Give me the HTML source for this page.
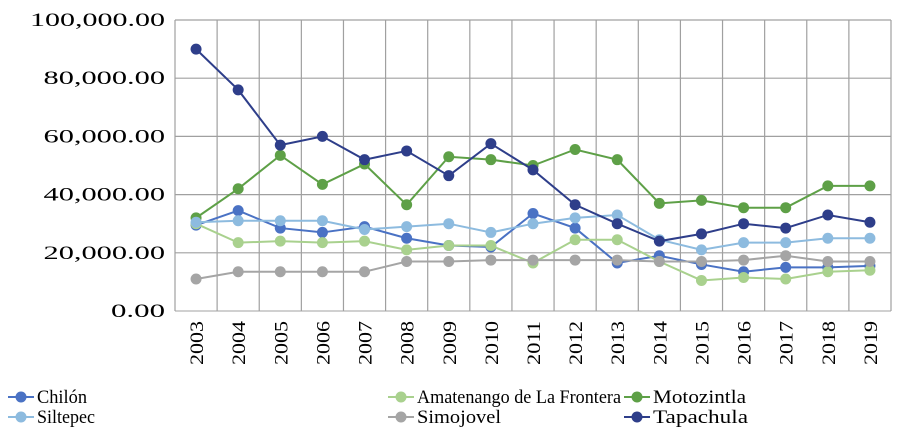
<!DOCTYPE html>
<html><head><meta charset="utf-8"><style>
body{margin:0;background:#fff}
svg text{font-family:"Liberation Serif",serif;fill:#000}
</style></head><body>
<svg width="917" height="432">
<g id="grid"></g><g id="axes"></g><g id="series"></g><g id="legend"></g>
</svg>
<script>
const years=["2003","2004","2005","2006","2007","2008","2009","2010","2011","2012","2013","2014","2015","2016","2017","2018","2019"];
const yTicks=[0,20000,40000,60000,80000,100000];
const yTickLabels=["0.00","20,000.00","40,000.00","60,000.00","80,000.00","100,000.00"];
const seriesNames=["Chilón","Amatenango de La Frontera","Motozintla","Siltepec","Simojovel","Tapachula"];
const chilon=[29500,34500,28500,27000,29000,25000,22500,22000,33500,28500,16500,19000,16000,13500,15000,15000,15500];
const amatenango=[30000,23500,24000,23500,24000,21000,22500,22500,16500,24500,24500,17000,10500,11500,11000,13500,14000];
const motozintla=[32000,42000,53500,43500,50500,36500,53000,52000,50000,55500,52000,37000,38000,35500,35500,43000,43000];
const siltepec=[30500,31000,31000,31000,28000,29000,30000,27000,30000,32000,33000,24500,21000,23500,23500,25000,25000];
const simojovel=[11000,13500,13500,13500,13500,17000,17000,17500,17500,17500,17500,17000,17000,17500,19000,17000,17000];
const tapachula=[90000,76000,57000,60000,52000,55000,46500,57500,48500,36500,30000,24000,26500,30000,28500,33000,30500];
const colors=["#4a72c4","#a9d18e","#5ea047","#8dbbdf","#a5a5a5","#2e3e8a"];
const data=[chilon,amatenango,motozintla,siltepec,simojovel,tapachula];
const L=175,R=891,T=20,B=311;
const step=(R-L)/years.length;
const xs=i=>L+step*(i+0.5);
const ys=v=>B-(v/100000)*(B-T);
const NS="http://www.w3.org/2000/svg";
function mk(p,t,a){const e=document.createElementNS(NS,t);for(const k in a)e.setAttribute(k,a[k]);p.appendChild(e);return e;}
const grid=document.getElementById('grid'),axes=document.getElementById('axes'),ser=document.getElementById('series'),leg=document.getElementById('legend');
yTicks.forEach((v,i)=>{
 const l=mk(grid,'line',{x1:L,x2:R,y1:ys(v),y2:ys(v),stroke:i==0?'#d0d0d0':'#a0a0a0','stroke-width':i==0?2:1.2});
 
 
 const lab=yTickLabels[i];
 const t=mk(axes,'text',{x:165,y:ys(v)+6,'text-anchor':'end','font-size':19,textLength:lab.length*13.5,lengthAdjust:'spacingAndGlyphs'});
 t.textContent=lab;
 
 
});
for(let i=0;i<=years.length;i++){
 const x=L+step*i;
 const l=mk(grid,'line',{x1:x,x2:x,y1:T,y2:B,stroke:'#a0a0a0','stroke-width':1.2});
 
 
}
years.forEach((y,i)=>{
 const t=mk(axes,'text',{x:0,y:0,'font-size':19,'text-anchor':'end',textLength:44,lengthAdjust:'spacingAndGlyphs',transform:`translate(${xs(i)+7},321) rotate(-90)`});
 t.textContent=y;
 
 
});
data.forEach((d,s)=>{
 const g=mk(ser,'g',{});
 
 
 mk(g,'polyline',{points:d.map((v,i)=>xs(i)+','+ys(v)).join(' '),fill:'none',stroke:colors[s],'stroke-width':2});
 d.forEach((v,i)=>{
  const c=mk(g,'circle',{cx:xs(i),cy:ys(v),r:5.5,fill:colors[s]});
  
  
 });
});
const lx=[8,388,624];
const lw=[50,204,93,58,84,95];
seriesNames.forEach((n,i)=>{
 const col=i<3?i:i-3, row=i<3?0:1;
 const x=lx[col], y=397+row*20;
 const g=mk(leg,'g',{});
 
 
 mk(g,'line',{x1:x,x2:x+26,y1:y,y2:y,stroke:colors[i],'stroke-width':2});
 mk(g,'circle',{cx:x+13,cy:y,r:5.5,fill:colors[i]});
 const t=mk(g,'text',{x:x+29,y:y+6,'font-size':19,textLength:lw[i],lengthAdjust:'spacingAndGlyphs'});
 t.textContent=n;
});
</script>
</body></html>
